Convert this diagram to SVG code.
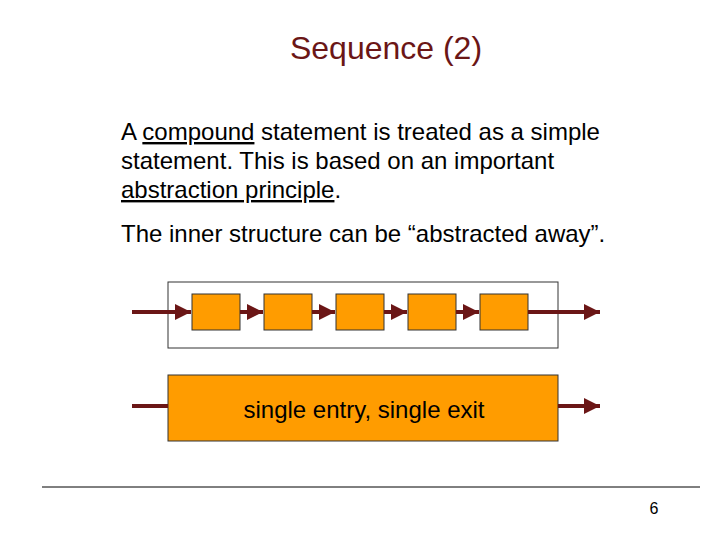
<svg xmlns="http://www.w3.org/2000/svg" width="720" height="540" viewBox="0 0 720 540">
<style>
text{font-family:"Liberation Sans",Arial,sans-serif}
.b{fill:#ff9c00;stroke:#333;stroke-width:1}
.c{stroke:#6b1616;stroke-width:4;fill:none}
.t{font-size:24px;fill:#000}
</style>
<defs><marker id="a" markerWidth="4" markerHeight="4" refX="4" refY="2" orient="auto" markerUnits="strokeWidth"><path d="M0,0 L4,2 L0,4 Z" fill="#6b1616"/></marker></defs>
<rect width="720" height="540" fill="#fff"/>
<text x="386" y="59" text-anchor="middle" font-size="32" fill="#6b1616">Sequence (2)</text>
<text class="t" x="121" y="140">A <tspan text-decoration="underline">compound</tspan> statement is treated as a simple</text>
<text class="t" x="121" y="169">statement. This is based on an important</text>
<text class="t" x="121" y="198"><tspan text-decoration="underline">abstraction principle</tspan>.</text>
<text class="t" x="121" y="242">The inner structure can be “abstracted away”.</text>
<g id="outer"><rect x="168" y="282" width="390" height="66" fill="#fff" stroke="#333"/></g>
<g id="s1"><rect class="b" x="192" y="294" width="48" height="36"/></g>
<g id="s2"><rect class="b" x="264" y="294" width="48" height="36"/></g>
<g id="s3"><rect class="b" x="336" y="294" width="48" height="36"/></g>
<g id="s4"><rect class="b" x="408" y="294" width="48" height="36"/></g>
<g id="s5"><rect class="b" x="480" y="294" width="48" height="36"/></g>
<g id="big"><rect class="b" x="168" y="375" width="390" height="66"/><text x="364" y="418" text-anchor="middle" font-size="24" fill="#000">single entry, single exit</text></g>
<g id="connectors">
<line class="c" x1="132" y1="312" x2="191" y2="312" marker-end="url(#a)"/>
<line class="c" x1="240" y1="312" x2="263" y2="312" marker-end="url(#a)"/>
<line class="c" x1="312" y1="312" x2="335" y2="312" marker-end="url(#a)"/>
<line class="c" x1="384" y1="312" x2="407" y2="312" marker-end="url(#a)"/>
<line class="c" x1="456" y1="312" x2="479" y2="312" marker-end="url(#a)"/>
<line class="c" x1="528" y1="312" x2="600" y2="312" marker-end="url(#a)"/>
<line class="c" x1="132" y1="406" x2="168" y2="406"/>
<line class="c" x1="558" y1="406" x2="600" y2="406" marker-end="url(#a)"/>
</g>
<line x1="42" y1="487" x2="700" y2="487" stroke="#000" stroke-width="1"/>
<text x="654" y="514" text-anchor="middle" font-size="16" fill="#000">6</text>
</svg>
